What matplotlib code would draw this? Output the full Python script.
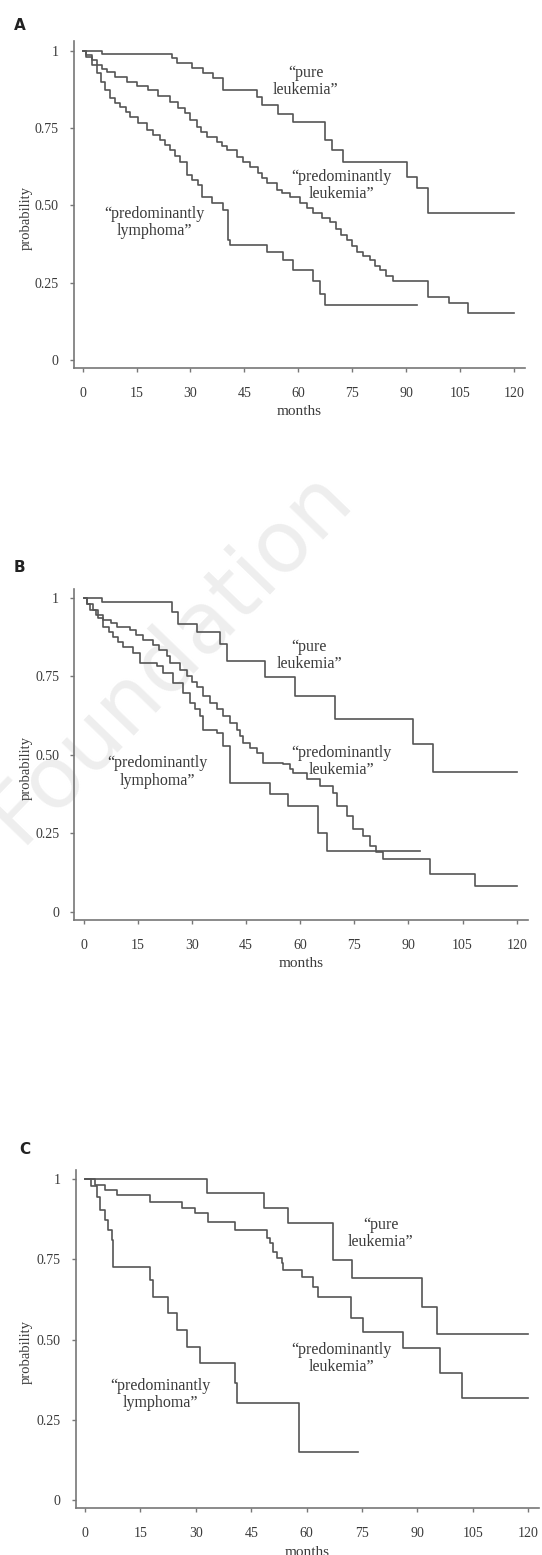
import matplotlib
matplotlib.use('Agg')
import matplotlib.pyplot as plt

# ---- data (months, survival probability) ----
# Panel A
a_pure_t = [0, 5.3, 24.8, 26.2, 30.3, 33.6, 36.3, 39.1, 48.4, 49.8, 54.4, 58.6,
            67.4, 69.3, 72.5, 90.2, 93.0, 96.2, 120]
a_pure_s = [1.0, 0.99, 0.975, 0.959, 0.943, 0.927, 0.911, 0.873, 0.851, 0.824, 0.795, 0.770,
            0.711, 0.679, 0.641, 0.593, 0.555, 0.474, 0.474]

a_leuk_t = [0, 1.0, 2.5, 4.0, 5.5, 6.7, 9.0, 12.2, 15.0, 18.3, 21.0, 24.3, 26.5, 28.5, 30.0,
            31.7, 33.0, 34.5, 37.3, 38.7, 40.1, 42.9, 44.5, 46.6, 48.9, 50.0, 51.2, 54.0, 55.5,
            57.7, 60.5, 62.3, 64.2, 66.5, 68.8, 70.5, 72.0, 73.5, 75.0, 76.3, 78.0, 80.0, 81.3,
            82.7, 84.5, 86.4, 96.2, 102.0, 107.3, 120]
a_leuk_s = [1.0, 0.985, 0.97, 0.955, 0.942, 0.932, 0.915, 0.900, 0.887, 0.873, 0.855, 0.835,
            0.815, 0.798, 0.775, 0.754, 0.738, 0.722, 0.706, 0.692, 0.679, 0.657, 0.641, 0.625,
            0.604, 0.588, 0.571, 0.550, 0.540, 0.527, 0.507, 0.490, 0.474, 0.460, 0.447, 0.425,
            0.405, 0.388, 0.370, 0.350, 0.335, 0.323, 0.305, 0.291, 0.272, 0.256, 0.205, 0.185,
            0.151, 0.151]

a_lymph_t = [0, 1.0, 2.5, 3.9, 5.0, 6.3, 7.6, 9.0, 10.4, 12.0, 13.2, 15.5, 17.8, 19.5, 21.5,
             23.0, 24.3, 25.8, 27.1, 28.9, 30.5, 32.2, 33.1, 36.0, 39.1, 40.5, 41.0, 51.2, 55.8,
             58.5, 64.2, 66.0, 67.4, 93]
a_lymph_s = [1.0, 0.98, 0.955, 0.927, 0.900, 0.872, 0.846, 0.832, 0.819, 0.803, 0.787, 0.765,
             0.744, 0.728, 0.711, 0.695, 0.679, 0.660, 0.641, 0.598, 0.582, 0.566, 0.528, 0.507,
             0.485, 0.388, 0.372, 0.350, 0.323, 0.290, 0.255, 0.215, 0.178, 0.178]

# Panel B
b_pure_t = [0, 5.0, 24.4, 26.3, 31.4, 37.8, 39.7, 50.3, 58.6, 69.7, 91.2, 96.9, 120]
b_pure_s = [1.0, 0.986, 0.954, 0.917, 0.891, 0.854, 0.800, 0.747, 0.689, 0.615, 0.534, 0.445, 0.445]

b_leuk_t = [0, 1.0, 1.8, 3.5, 5.5, 7.5, 9.2, 12.9, 14.5, 16.6, 19.3, 21.0, 23.0, 24.0, 26.7,
            28.6, 30.0, 31.4, 33.2, 35.0, 37.0, 38.7, 40.6, 42.4, 43.3, 44.3, 46.0, 48.0, 49.8,
            55.3, 57.2, 58.1, 61.8, 65.5, 69.2, 70.1, 72.9, 74.7, 77.5, 79.4, 81.0, 83.0, 96.0,
            108.5, 120]
b_leuk_s = [1.0, 0.98, 0.962, 0.945, 0.930, 0.920, 0.909, 0.898, 0.882, 0.867, 0.851, 0.835,
            0.814, 0.793, 0.771, 0.750, 0.734, 0.718, 0.687, 0.666, 0.645, 0.623, 0.602, 0.581,
            0.560, 0.539, 0.523, 0.507, 0.475, 0.470, 0.454, 0.443, 0.422, 0.401, 0.380, 0.337,
            0.306, 0.263, 0.242, 0.210, 0.190, 0.168, 0.121, 0.083, 0.083]

b_lymph_t = [0, 1.0, 2.7, 4.0, 5.5, 7.0, 8.3, 9.5, 11.0, 13.8, 15.7, 20.3, 22.1, 24.9, 27.6,
             29.5, 31.0, 32.3, 33.2, 36.9, 38.7, 40.6, 51.7, 56.7, 65.0, 67.5, 93.2]
b_lymph_s = [1.0, 0.98, 0.962, 0.935, 0.909, 0.893, 0.877, 0.860, 0.845, 0.824, 0.793, 0.782,
             0.761, 0.729, 0.697, 0.666, 0.645, 0.623, 0.581, 0.570, 0.528, 0.412, 0.375, 0.337,
             0.253, 0.195, 0.195]

# Panel C
c_pure_t = [0, 32.9, 48.5, 55.0, 67.2, 72.2, 91.1, 95.2, 120]
c_pure_s = [1.0, 0.956, 0.910, 0.865, 0.748, 0.691, 0.603, 0.518, 0.518]

c_leuk_t = [0, 2.7, 5.4, 8.6, 17.6, 26.2, 29.8, 33.4, 40.6, 49.2, 50.1, 51.0, 51.9, 53.2, 53.7,
            58.7, 61.8, 63.2, 71.9, 75.3, 86.2, 96.1, 102.0, 120]
c_leuk_s = [1.0, 0.982, 0.967, 0.951, 0.930, 0.910, 0.894, 0.868, 0.842, 0.816, 0.800, 0.774,
            0.754, 0.738, 0.717, 0.696, 0.665, 0.634, 0.566, 0.525, 0.473, 0.395, 0.317, 0.317]

c_lymph_t = [0, 1.5, 3.2, 4.1, 5.4, 6.3, 7.2, 7.7, 17.6, 18.5, 22.5, 24.8, 27.5, 31.1, 40.6,
             41.1, 57.9, 74]
c_lymph_s = [1.0, 0.98, 0.946, 0.904, 0.873, 0.842, 0.811, 0.727, 0.686, 0.634, 0.582, 0.530,
             0.478, 0.426, 0.364, 0.302, 0.151, 0.151]

x_ticks = [0, 15, 30, 45, 60, 75, 90, 105, 120]
y_ticks = [0, 0.25, 0.5, 0.75, 1]
y_tick_labels = ['0', '0.25', '0.50', '0.75', '1']

label_pure = '\u201cpure\nleukemia\u201d'
label_leuk = '\u201cpredominantly\nleukemia\u201d'
label_lymph = '\u201cpredominantly\nlymphoma\u201d'

panels = [
    dict(name='A', curves=[(a_pure_t, a_pure_s), (a_leuk_t, a_leuk_s), (a_lymph_t, a_lymph_s)],
         labels=[(62, 0.90), (72, 0.563), (20, 0.445)],
         x0=82.7, px_per_month=3.593, y1=50.7, px_per_unit=309.3, tag=(14, 25)),
    dict(name='B', curves=[(b_pure_t, b_pure_s), (b_leuk_t, b_leuk_s), (b_lymph_t, b_lymph_s)],
         labels=[(62.5, 0.818), (71.5, 0.48), (20.5, 0.446)],
         x0=83.5, px_per_month=3.61, y1=598.0, px_per_unit=314.0, tag=(14, 567)),
    dict(name='C', curves=[(c_pure_t, c_pure_s), (c_leuk_t, c_leuk_s), (c_lymph_t, c_lymph_s)],
         labels=[(80, 0.832), (69.5, 0.442), (20.3, 0.33)],
         x0=85.0, px_per_month=3.694, y1=1179.3, px_per_unit=320.7, tag=(19, 1150)),
]

W, H = 542, 1555
XLIM = (-2.5, 123)
YLIM = (-0.025, 1.03)
line_col = '#555555'
text_col = '#3a3a3a'
serif = ['Liberation Serif', 'DejaVu Serif']

fig = plt.figure(figsize=(W / 100, H / 100), dpi=100)

# faint watermark running across panel B
fig.text(170 / W, 1 - 655 / H, 'Foundation', rotation=46, fontsize=62, color='#eeeeee',
         ha='center', va='center', family='DejaVu Sans', zorder=-5)

for p in panels:
    left = p['x0'] + XLIM[0] * p['px_per_month']
    right = p['x0'] + XLIM[1] * p['px_per_month']
    top = p['y1'] - (YLIM[1] - 1) * p['px_per_unit']
    bottom = p['y1'] + (1 - YLIM[0]) * p['px_per_unit']
    ax = fig.add_axes([left / W, 1 - bottom / H, (right - left) / W, (bottom - top) / H])
    ax.patch.set_alpha(0)

    for t, s in p['curves']:
        ax.step(t, s, where='post', color=line_col, lw=1.2)

    for (x, y), txt in zip(p['labels'], [label_pure, label_leuk, label_lymph]):
        ax.text(x, y, txt, ha='center', va='center', fontsize=11.5, color=text_col,
                family=serif, linespacing=1.1)

    ax.set_xlim(*XLIM)
    ax.set_ylim(*YLIM)
    ax.set_xticks(x_ticks)
    ax.set_xticklabels([str(v) for v in x_ticks])
    ax.set_yticks(y_ticks)
    ax.set_yticklabels(y_tick_labels)
    for lab in ax.get_xticklabels() + ax.get_yticklabels():
        lab.set_family(serif)
        lab.set_fontsize(10)
        lab.set_color(text_col)
    ax.tick_params(axis='x', direction='out', length=3, width=1, color='#777777', pad=11)
    ax.tick_params(axis='y', direction='out', length=3, width=1, color='#777777', pad=8)

    for side in ['top', 'right']:
        ax.spines[side].set_visible(False)
    for side in ['left', 'bottom']:
        ax.spines[side].set_color('#777777')
        ax.spines[side].set_linewidth(1.2)

    w_px = right - left
    h_px = bottom - top
    ax.set_xlabel('months', family=serif, fontsize=11, color=text_col)
    ax.xaxis.label.set_va('center')
    ax.xaxis.set_label_coords(0.5, -44 / h_px)
    ax.set_ylabel('probability', family=serif, fontsize=10.5, color=text_col)
    ax.yaxis.label.set_va('center')
    ax.yaxis.set_label_coords(-(left - 26) / w_px, (0.46 - YLIM[0]) / (YLIM[1] - YLIM[0]))

    fig.text(p['tag'][0] / W, 1 - p['tag'][1] / H, p['name'], ha='left', va='center',
             fontsize=11, fontweight='heavy', family='DejaVu Sans', color='#222222')

fig.savefig('out.png', dpi=100)
